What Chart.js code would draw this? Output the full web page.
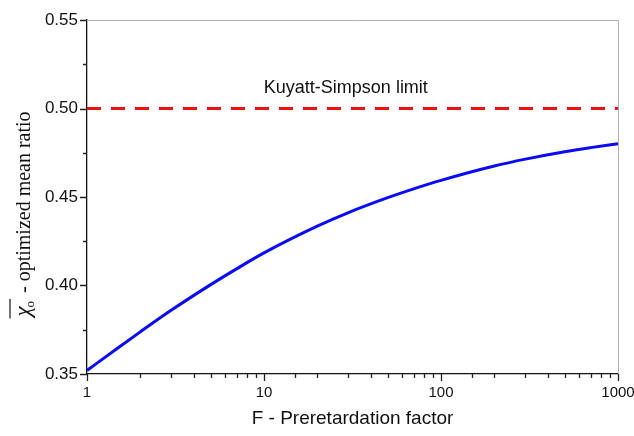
<!DOCTYPE html>
<html lang="en">
<head>
  <meta charset="UTF-8" />
  <title>Optimized mean ratio vs preretardation factor</title>
  <script src="https://cdn.jsdelivr.net/npm/chart.js"></script>
  <style>
    html, body { margin: 0; padding: 0; background: #fff; }
    #wrap { width: 634px; height: 436px; }
  </style>
</head>
<body>
<div id="wrap"><canvas id="chart"></canvas></div>

<script>
// data ---------------------------------------------------------
const factorF   = [1, 1.5, 2, 3, 5, 7, 10, 20, 30, 50, 70, 100, 200, 300, 500, 700, 1000];
const meanRatio = [0.352, 0.3648, 0.3738, 0.3861, 0.4005, 0.4094, 0.4184, 0.4335, 0.4412,
                   0.4496, 0.4546, 0.4594, 0.4675, 0.4714, 0.4756, 0.4779, 0.4801];
const limitF     = [1, 1000];
const limitRatio = [0.50, 0.50];
const xTickLabels = [1, 10, 100, 1000];
const yTickLabels = [0.35, 0.40, 0.45, 0.50, 0.55];
const limitLabel  = 'Kuyatt-Simpson limit';

const sans  = '"Liberation Sans", Arial, sans-serif';
const serif = '"Liberation Serif", "Times New Roman", serif';

// helpers ------------------------------------------------------
const isMajorX = v => xTickLabels.some(t => Math.abs(t - v) < 1e-9);
const isMajorY = v => yTickLabels.some(t => Math.abs(t - v) < 1e-9);

// tick marks, frame, y title, annotation -------------------------
const decorations = {
  id: 'decorations',
  afterDraw(chart) {
    const {ctx, chartArea: a, scales: {x, y}} = chart;
    ctx.save();

    // light frame on top / right
    ctx.strokeStyle = '#b0b0b0';
    ctx.lineWidth = 1;
    ctx.beginPath();
    ctx.moveTo(a.left, a.top + 0.5); ctx.lineTo(a.right + 0.5, a.top + 0.5);
    ctx.lineTo(a.right + 0.5, a.bottom);
    ctx.stroke();

    // tick marks
    ctx.strokeStyle = '#222';
    ctx.lineWidth = 1.3;
    ctx.beginPath();
    x.ticks.forEach(t => {
      const px = Math.round(x.getPixelForValue(t.value)) + 0.5;
      const len = isMajorX(t.value) ? 7 : 4;
      ctx.moveTo(px, a.bottom); ctx.lineTo(px, a.bottom + len);
    });
    y.ticks.forEach(t => {
      const py = Math.round(y.getPixelForValue(t.value)) + 0.5;
      const len = isMajorY(t.value) ? 7 : 4;
      ctx.moveTo(a.left, py); ctx.lineTo(a.left - len, py);
    });
    ctx.stroke();

    // annotation above the dashed line
    ctx.fillStyle = '#111';
    ctx.font = '18px ' + sans;
    ctx.textAlign = 'center';
    ctx.textBaseline = 'alphabetic';
    ctx.fillText(limitLabel, x.getPixelForValue(29), y.getPixelForValue(0.5) - 16);

    // y title: overline chi with subscript o, then the words
    const rest = ' - optimized mean ratio';
    ctx.font = 'italic 23px ' + serif;
    const wChi = ctx.measureText('\u03C7').width;
    ctx.font = '13px ' + serif;
    const wSub = ctx.measureText('o').width;
    ctx.font = '20px ' + serif;
    const wRest = ctx.measureText(rest).width;
    const total = wChi + wSub + 2 + wRest;

    ctx.translate(30, 214);
    ctx.rotate(-Math.PI / 2);
    ctx.textAlign = 'left';
    let pos = -total / 2;
    ctx.font = 'italic 23px ' + serif;
    ctx.fillText('\u03C7', pos, 0);
    ctx.font = '13px ' + serif;
    ctx.fillText('o', pos + wChi - 1, 4);
    ctx.strokeStyle = '#111';
    ctx.lineWidth = 1.2;
    ctx.beginPath();
    ctx.moveTo(pos - 2, -20); ctx.lineTo(pos + wChi + wSub + 1, -20);
    ctx.stroke();
    pos += wChi + wSub + 2;
    ctx.font = '20px ' + serif;
    ctx.fillText(rest, pos, 0);

    ctx.restore();
  }
};

new Chart(document.getElementById('chart'), {
  type: 'line',
  data: {
    datasets: [
      {
        label: 'Optimized mean ratio',
        data: factorF.map((f, i) => ({x: f, y: meanRatio[i]})),
        borderColor: '#0a0af5',
        borderWidth: 3,
        pointRadius: 0,
        cubicInterpolationMode: 'monotone',
        fill: false
      },
      {
        label: limitLabel,
        data: limitF.map((f, i) => ({x: f, y: limitRatio[i]})),
        borderColor: '#ee1111',
        borderWidth: 3,
        borderDash: [14, 10],
        pointRadius: 0,
        fill: false
      }
    ]
  },
  options: {
    responsive: true,
    maintainAspectRatio: false,
    animation: false,
    layout: {padding: {left: 0, right: 16, top: 20, bottom: 0}},
    plugins: {legend: {display: false}, tooltip: {enabled: false}},
    scales: {
      x: {
        type: 'logarithmic',
        min: 1, max: 1000,
        grid: {display: false, drawTicks: true, tickLength: 7},
        border: {display: true, color: '#111', width: 1.3},
        ticks: {
          autoSkip: false, maxRotation: 0, padding: 3,
          color: '#111', font: {family: sans, size: 15},
          callback: v => isMajorX(v) ? String(v) : ''
        },
        title: {
          display: true, text: 'F - Preretardation factor',
          color: '#111', font: {family: sans, size: 19}, padding: {top: 0, bottom: 6}
        },
        afterFit: s => { s.height = 62; s.paddingLeft = 0; s.paddingRight = 0; }
      },
      y: {
        min: 0.35, max: 0.55,
        grid: {display: false, drawTicks: true, tickLength: 7},
        border: {display: true, color: '#111', width: 1.3},
        ticks: {
          stepSize: 0.025, padding: 2,
          color: '#111', font: {family: sans, size: 17},
          callback: v => isMajorY(v) ? v.toFixed(2) : ''
        },
        afterFit: s => { s.width = 87; s.paddingTop = 0; s.paddingBottom = 0; }
      }
    }
  },
  plugins: [decorations]
});
</script>
</body>
</html>
